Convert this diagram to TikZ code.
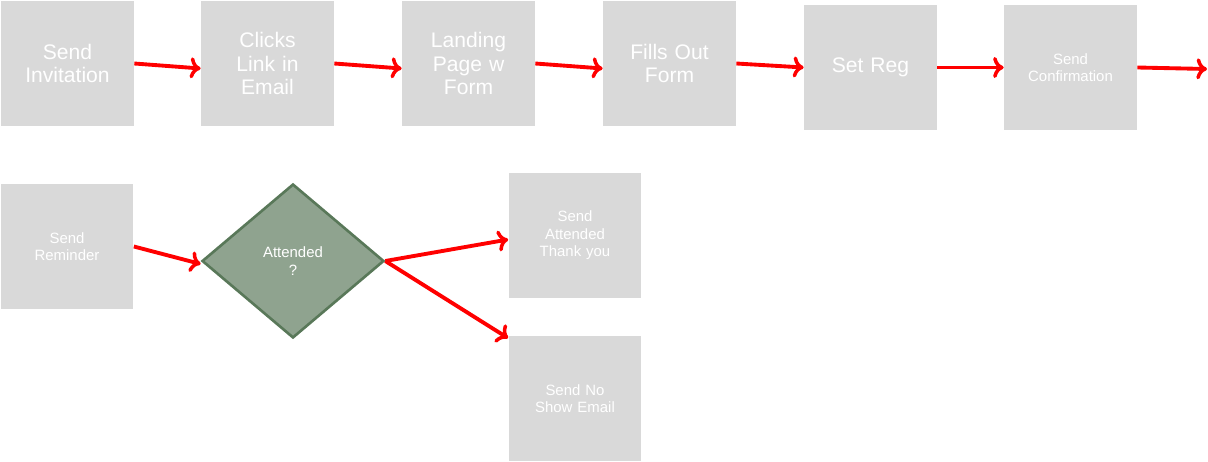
\documentclass[tikz,border=0pt]{standalone}
\usepackage{fontspec}
\setmainfont{Liberation Sans}
\usetikzlibrary{positioning,shapes.geometric,arrows.meta}
\tikzset{
  bx/.style={rectangle, minimum width=2.66cm, minimum height=2.5cm, text width=2.4cm, align=center, fill=black!15, text=white, font=\fontsize{12}{13.5}\selectfont},
  bxs/.style={bx, font=\fontsize{8.5}{10}\selectfont},
  dm/.style={diamond, minimum width=3.64cm, minimum height=3.08cm, aspect=1.18, inner sep=0pt, align=center, draw=black!60!green!30!gray, line width=1.5pt, fill=green!10!gray!80, text=white, font=\fontsize{8.5}{10}\selectfont},
  ar/.style={-{To[length=6pt,width=12pt,line width=2pt]}, draw=red, line width=2.2pt}
}
\begin{document}
\begin{tikzpicture}[x=0.02cm,y=-0.02cm]
	\useasboundingbox (0,0) rectangle (1208,462);
	\node[bx] (inv) at (67.5,63.5) {Send\\Invitation};
	\node[bx] (click) at (267.5,63.5) {Clicks\\Link in\\Email};
	\node[bx] (land) at (468.5,63.5) {Landing\\Page w\\Form};
	\node[bx] (fill) at (669.5,63.5) {Fills Out\\Form};
	\node[bx] (reg) at (870.5,67.5) {Set Reg};
	\node[bxs] (conf) at (1070.5,67.5) {Send\\Confirmation};
	\coordinate (out) at (1207,69);
	\node[bxs] (rem) at (67,246.5) {Send\\Reminder};
	\node[dm] (att) at (293,261) {Attended\\?};
	\node[bxs] (thx) at (575,235.5) {Send\\Attended\\Thank you};
	\node[bxs] (nos) at (575,398.5) {Send No\\Show Email};
	%
	\draw[ar] (inv.east) -- ([yshift=-0.1cm]click.west);
	\draw[ar] (click.east) -- ([yshift=-0.1cm]land.west);
	\draw[ar] (land.east) -- ([yshift=-0.1cm]fill.west);
	\draw[ar] (fill.east) -- (reg.west);
	\draw[ar] (reg.east) -- (conf.west);
	\draw[ar] (conf.east) -- (out);
	\draw[ar] (rem.east) -- ([yshift=-0.06cm]att.west);
	\draw[ar] (att.east) -- ([yshift=-0.08cm]thx.west);
	\draw[ar] (att.east) -- ([yshift=-0.05cm]nos.north west);
\end{tikzpicture}
\end{document}
